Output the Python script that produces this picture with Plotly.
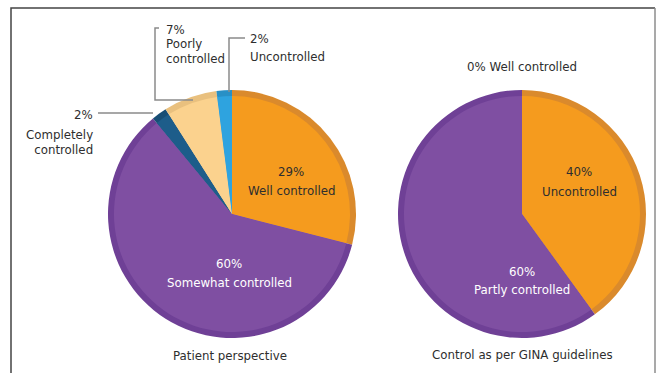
import plotly.graph_objects as go

W, H = 657, 373

# Data
patient_labels = ["Well controlled", "Somewhat controlled", "Completely controlled", "Poorly controlled", "Uncontrolled"]
patient_values = [29, 60, 2, 7, 2]
patient_colors = ["#F59B1E", "#7F4FA2", "#1D5D8A", "#FBD28E", "#2EA3DF"]
patient_rim = ["#DA8A2C", "#6F4096", "#174E75", "#E9C07E", "#2890C6"]

gina_labels = ["Uncontrolled", "Partly controlled", "Well controlled"]
gina_values = [40, 60, 0]
gina_colors = ["#F59B1E", "#7F4FA2", "#7F4FA2"]
gina_rim = ["#DA8A2C", "#6F4096", "#6F4096"]

captions = ["Patient perspective", "Control as per GINA guidelines"]

centers = [(232, 214), (522, 214)]
R_OUT, R_IN = 124, 118


def dom(cx, cy, r):
    return dict(x=[(cx - r) / W, (cx + r) / W],
                y=[(H - cy - r) / H, (H - cy + r) / H])


fig = go.Figure()
for (cx, cy), vals, labs, cols, rims in [
    (centers[0], patient_values, patient_labels, patient_colors, patient_rim),
    (centers[1], gina_values, gina_labels, gina_colors, gina_rim),
]:
    fig.add_trace(go.Pie(values=vals, labels=labs, sort=False, direction="clockwise",
                         rotation=0, textinfo="none", hoverinfo="label+value",
                         marker=dict(colors=rims, line=dict(width=0)),
                         domain=dom(cx, cy, R_OUT), showlegend=False))
    fig.add_trace(go.Pie(values=vals, labels=labs, sort=False, direction="clockwise",
                         rotation=0, textinfo="none", hoverinfo="label+value",
                         marker=dict(colors=cols, line=dict(width=0)),
                         domain=dom(cx, cy, R_IN), showlegend=False))

font = "DejaVu Sans, Verdana, sans-serif"
dark = "#2e2e2e"


def ann(x, y, text, color=dark, align="center", xanchor="center", size=11.8):
    fig.add_annotation(x=x, y=y, xref="x", yref="y", text=text, showarrow=False,
                       font=dict(family=font, size=size, color=color),
                       align=align, xanchor=xanchor, yanchor="middle")


# Inside labels
ann(291, 172, f"{patient_values[0]}%")
ann(291, 191, patient_labels[0])
ann(229, 264, f"{patient_values[1]}%", color="white")
ann(229, 283, patient_labels[1], color="white")
ann(579, 172, f"{gina_values[0]}%")
ann(579, 192, gina_labels[0])
ann(522, 272, f"{gina_values[1]}%", color="white")
ann(522, 290, gina_labels[1], color="white")

# Outside labels
ann(164, 30, f"{patient_values[3]}%", align="left", xanchor="left")
ann(164, 51, "Poorly<br>controlled", align="left", xanchor="left")
ann(248, 39, f"{patient_values[4]}%", align="left", xanchor="left")
ann(248, 57, patient_labels[4], align="left", xanchor="left")
ann(95, 115, f"{patient_values[2]}%", align="right", xanchor="right")
ann(95, 142, "Completely<br>controlled", align="right", xanchor="right")
ann(522, 67, f"{gina_values[2]}% {gina_labels[2]}")

# Captions
ann(230, 356, captions[0])
ann(522, 355, captions[1])

# Leader lines
lc = dict(color="#8a8a8a", width=1.5)
fig.add_shape(type="path", path="M 159 28 L 155 28 L 155 100 L 193 100", xref="x", yref="y", line=lc)
fig.add_shape(type="path", path="M 245 38 L 229 38 L 229 92", xref="x", yref="y", line=lc)
fig.add_shape(type="line", x0=98, y0=113, x1=153, y1=113, xref="x", yref="y", line=lc)

# Frame
fig.add_shape(type="path", path="M 11 373 L 11 8 L 655 8", xref="x", yref="y",
              line=dict(color="#444444", width=1.5))
fig.add_shape(type="line", x0=655, y0=8, x1=655, y1=373, xref="x", yref="y",
              line=dict(color="#8c8c8c", width=1.5))

fig.update_layout(
    width=W, height=H, margin=dict(l=0, r=0, t=0, b=0),
    paper_bgcolor="white", plot_bgcolor="rgba(0,0,0,0)",
    xaxis=dict(range=[0, W], visible=False, fixedrange=True),
    yaxis=dict(range=[H, 0], visible=False, fixedrange=True),
)

fig.write_html("out.html")
